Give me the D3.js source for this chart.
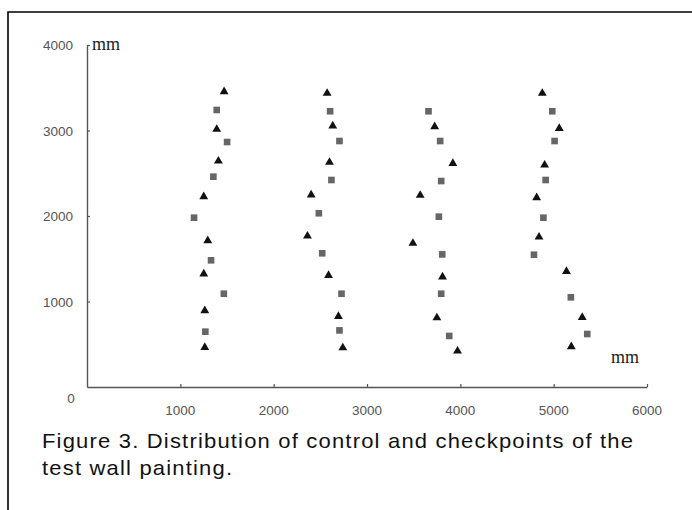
<!DOCTYPE html>
<html>
<head>
<meta charset="utf-8">
<script src="https://cdn.jsdelivr.net/npm/d3@7"></script>
<style>
  body { margin: 0; background: #fff; }
</style>
</head>
<body>
<div id="chart"></div>
<script>
// control points (triangles), values in mm
var controlX = [1469, 1390, 1408, 1251, 1294, 1251, 1262, 1262,
                2573, 2633, 2598, 2402, 2362, 2588, 2694, 2741,
                3725, 3920, 3570, 3492, 3809, 3749, 3970,
                4878, 5060, 4903, 4818, 4843, 5137, 5306, 5189];
var controlY = [3454, 3014, 2643, 2226, 1711, 1322, 892, 464,
                3435, 3053, 2628, 2246, 1766, 1306, 826, 459,
                3044, 2616, 2242, 1681, 1287, 810, 421,
                3435, 3025, 2596, 2214, 1754, 1353, 815, 471];

// checkpoints (squares), values in mm
var checkX = [1390, 1501, 1354, 1147, 1329, 1466, 1268,
              2605, 2705, 2619, 2484, 2520, 2727, 2705,
              3659, 3784, 3795, 3770, 3806, 3795, 3881,
              4985, 5010, 4914, 4890, 4789, 5184, 5360];
var checkY = [3240, 2865, 2460, 1980, 1482, 1091, 647,
              3225, 2877, 2421, 2032, 1564, 1091, 662,
              3225, 2877, 2409, 1992, 1551, 1091, 597,
              3225, 2877, 2421, 1980, 1547, 1049, 620];

var xTicks = [1000, 2000, 3000, 4000, 5000, 6000];
var yTicks = [1000, 2000, 3000, 4000];
var captionLines = ["Figure 3. Distribution of control and checkpoints of the",
                    "test wall painting."];

var width = 692, height = 510;

var svg = d3.select("#chart")
  .append("svg")
  .attr("width", width)
  .attr("height", height);

// frame of the figure (top and left edge only)
svg.append("path")
  .attr("d", "M8,510 L8,12 L692,12")
  .attr("fill", "none")
  .attr("stroke", "#000")
  .attr("stroke-width", 1.6);

// scales
var x = d3.scaleLinear().domain([0, 6000]).range([87, 647]);
var y = d3.scaleLinear().domain([0, 4000]).range([387, 45]);

var axisColor = "#555";

// x axis: ticks point up into the plot
var xAxis = svg.append("g")
  .attr("transform", "translate(0," + y(0) + ")")
  .call(d3.axisTop(x).tickValues(xTicks).tickSize(3).tickSizeOuter(0).tickFormat(""));
xAxis.select(".domain").attr("stroke", axisColor).attr("stroke-width", 1.4);
xAxis.selectAll(".tick line").attr("stroke", axisColor).attr("stroke-width", 1.2);

// y axis: ticks point right into the plot
var yAxis = svg.append("g")
  .attr("transform", "translate(" + x(0) + ",0)")
  .call(d3.axisRight(y).tickValues(yTicks).tickSize(3).tickSizeOuter(0).tickFormat(""));
yAxis.select(".domain").attr("stroke", axisColor).attr("stroke-width", 1.4);
yAxis.selectAll(".tick line").attr("stroke", axisColor).attr("stroke-width", 1.2);

// tick labels
svg.append("g")
  .selectAll("text")
  .data(xTicks)
  .enter()
  .append("text")
  .attr("x", function(d) { return x(d); })
  .attr("y", 415)
  .attr("text-anchor", "middle")
  .style("font-family", "'Liberation Sans', Arial, sans-serif")
  .style("font-size", "13.5px")
  .style("fill", "#555")
  .text(function(d) { return d; });

svg.append("g")
  .selectAll("text")
  .data(yTicks)
  .enter()
  .append("text")
  .attr("x", 73)
  .attr("y", function(d) { return y(d) + 5; })
  .attr("text-anchor", "end")
  .style("font-family", "'Liberation Sans', Arial, sans-serif")
  .style("font-size", "13.5px")
  .style("fill", "#555")
  .text(function(d) { return d; });

svg.append("text")
  .attr("x", 71)
  .attr("y", 403)
  .attr("text-anchor", "middle")
  .style("font-family", "'Liberation Sans', Arial, sans-serif")
  .style("font-size", "13.5px")
  .style("fill", "#555")
  .text("0");

// unit labels
svg.append("text")
  .attr("x", 92)
  .attr("y", 50)
  .style("font-family", "'Liberation Serif', 'Times New Roman', serif")
  .style("font-size", "18px")
  .style("fill", "#222")
  .text("mm");

svg.append("text")
  .attr("x", 611)
  .attr("y", 363)
  .style("font-family", "'Liberation Serif', 'Times New Roman', serif")
  .style("font-size", "18px")
  .style("fill", "#222")
  .text("mm");

// checkpoints
var controls = controlX.map(function(d, i) { return {x: d, y: controlY[i]}; });
var checks = checkX.map(function(d, i) { return {x: d, y: checkY[i]}; });

svg.append("g")
  .selectAll("path")
  .data(checks)
  .enter()
  .append("path")
  .attr("d", d3.symbol().type(d3.symbolSquare).size(44))
  .attr("transform", function(d) { return "translate(" + x(d.x) + "," + y(d.y) + ")"; })
  .attr("fill", "#666");

// control points
svg.append("g")
  .selectAll("path")
  .data(controls)
  .enter()
  .append("path")
  .attr("d", d3.symbol().type(d3.symbolTriangle).size(34))
  .attr("transform", function(d) { return "translate(" + x(d.x) + "," + y(d.y) + ")"; })
  .attr("fill", "#111");

// caption: slightly wide glyphs with a bit of tracking, first line spans the full width
var capLeft = 42, capRight = 633, sx = 1.1;
var caption = svg.append("g")
  .style("font-family", "'Liberation Sans', Arial, sans-serif")
  .style("font-size", "20px")
  .style("fill", "#111");

var lines = caption.selectAll("text")
  .data(captionLines)
  .enter()
  .append("text")
  .attr("x", capLeft / sx)
  .attr("y", function(d, i) { return 448 + i * 27; })
  .attr("transform", "scale(" + sx + ",1)")
  .text(function(d) { return d; });

var n1 = lines.node();
var tracking = ((capRight - capLeft) / sx - n1.getComputedTextLength()) / (captionLines[0].length - 1);
lines.style("letter-spacing", tracking + "px");
</script>
</body>
</html>
